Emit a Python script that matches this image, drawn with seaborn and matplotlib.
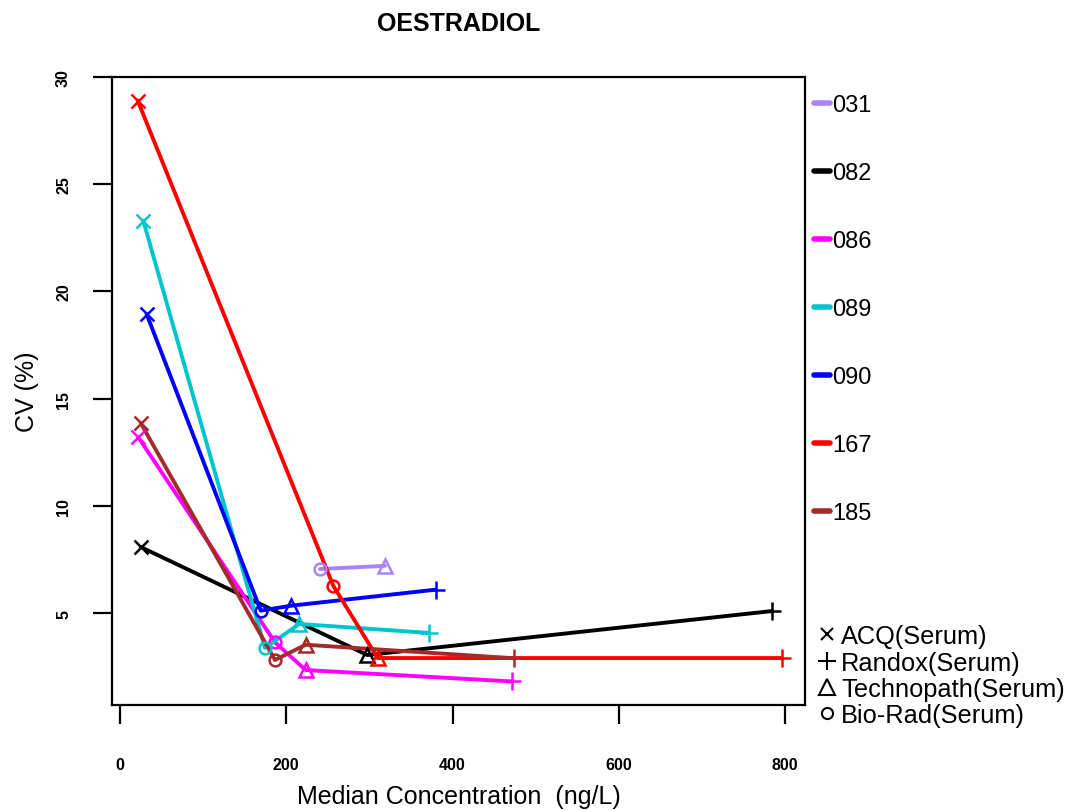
import matplotlib
matplotlib.use("Agg")
import matplotlib.pyplot as plt
import seaborn as sns
import pandas as pd
from matplotlib.lines import Line2D

# ---- data ----
labs = ["031", "082", "086", "089", "090", "167", "185"]
lab_colors = ["#AB82FF", "#000000", "#FF00FF", "#00C5CD", "#0000FF", "#FF0000", "#A52A2A"]
methods = ["ACQ(Serum)", "Randox(Serum)", "Technopath(Serum)", "Bio-Rad(Serum)"]
method_markers = ["x", "+", "^", "o"]

row_lab = ["031", "031",
           "082", "082", "082",
           "086", "086", "086", "086",
           "089", "089", "089", "089",
           "090", "090", "090", "090",
           "167", "167", "167", "167",
           "185", "185", "185", "185"]
row_method = ["Bio-Rad(Serum)", "Technopath(Serum)",
              "ACQ(Serum)", "Technopath(Serum)", "Randox(Serum)",
              "ACQ(Serum)", "Bio-Rad(Serum)", "Technopath(Serum)", "Randox(Serum)",
              "ACQ(Serum)", "Bio-Rad(Serum)", "Technopath(Serum)", "Randox(Serum)",
              "ACQ(Serum)", "Bio-Rad(Serum)", "Technopath(Serum)", "Randox(Serum)",
              "ACQ(Serum)", "Bio-Rad(Serum)", "Technopath(Serum)", "Randox(Serum)",
              "ACQ(Serum)", "Bio-Rad(Serum)", "Technopath(Serum)", "Randox(Serum)"]
median_conc = [240.6, 318.8,
               24.9, 297.5, 784.0,
               22.0, 186.5, 223.4, 471.0,
               28.0, 174.4, 215.7, 372.0,
               32.0, 169.3, 205.7, 379.8,
               21.3, 256.6, 310.0, 796.0,
               24.9, 186.5, 223.4, 474.0]
cv_pct = [7.05, 7.20,
          8.08, 3.04, 5.09,
          13.20, 3.63, 2.34, 1.81,
          23.30, 3.37, 4.49, 4.07,
          18.95, 5.11, 5.34, 6.09,
          28.90, 6.27, 2.90, 2.90,
          13.86, 2.81, 3.52, 2.89]

x_ticks = [0, 200, 400, 600, 800]
y_ticks = [5, 10, 15, 20, 25, 30]

# ---- figure ----
sns.set_theme(style="white")
plt.rcParams["font.family"] = ["Liberation Sans", "DejaVu Sans"]
plt.rcParams["text.color"] = "black"
plt.rcParams["axes.labelcolor"] = "black"
plt.rcParams["xtick.color"] = "black"
plt.rcParams["ytick.color"] = "black"

W, H = 1069, 812
fig = plt.figure(figsize=(W / 100, H / 100), dpi=100)
ax = fig.add_axes([112 / W, 1 - 706 / H, (805 - 112) / W, (706 - 78) / H])

df = pd.DataFrame({"lab": row_lab, "method": row_method,
                   "median": median_conc, "cv": cv_pct})
palette = dict(zip(labs, lab_colors))

sns.lineplot(data=df, x="median", y="cv", hue="lab", hue_order=labs,
             palette=palette, estimator=None, sort=True, lw=2.8,
             legend=False, ax=ax)

msizes = {"x": 10, "+": 13, "^": 10.5, "o": 8.5}
for lab in labs:
    for meth, mk in zip(methods, method_markers):
        sub = df[(df.lab == lab) & (df.method == meth)]
        if len(sub):
            ax.plot(sub["median"], sub["cv"], ls="none", marker=mk,
                    ms=msizes[mk], mew=1.8, mfc="none", mec=palette[lab])

ax.set_xlim(-9.6, 824)
ax.set_ylim(0.71, 30.0)
ax.set_xticks(x_ticks)
ax.set_yticks(y_ticks)
ax.set_xticklabels([str(v) for v in x_ticks])
ax.set_yticklabels([str(v) for v in y_ticks])
for s in ax.spines.values():
    s.set_color("black")
    s.set_linewidth(1.6)
ax.tick_params(axis="both", direction="out", length=13.5, width=1.6,
               colors="black", labelsize=11.5, bottom=True, left=True)
ax.tick_params(axis="x", pad=24)
ax.tick_params(axis="y", pad=16)
for lbl in ax.get_xticklabels():
    lbl.set_fontweight("bold")
for lbl in ax.get_yticklabels():
    lbl.set_fontweight("bold")
    lbl.set_rotation(90)
    lbl.set_va("center")

ax.set_xlabel("Median Concentration  (ng/L)", fontsize=18, va="center")
ax.xaxis.set_label_coords(0.5, (706 - 797) / (706 - 78))
ax.set_ylabel("CV (%)", fontsize=18, va="center")
ax.yaxis.set_label_coords((27 - 112) / (805 - 112), 0.5)

fig.text(459 / W, 1 - 24 / H, "OESTRADIOL", ha="center", va="center",
         fontsize=18, fontweight="bold", color="black")

# lab legend (right side)
for i, (lab, col) in enumerate(zip(labs, lab_colors)):
    y = 1 - (104 + i * 68) / H
    fig.add_artist(Line2D([814 / W, 830 / W], [y, y], transform=fig.transFigure,
                          color=col, lw=4, solid_capstyle="round"))
    fig.text(832 / W, y, lab, fontsize=17, va="center_baseline", ha="left")

# method legend
leg_ms = {"x": 9, "+": 13, "^": 12, "o": 8}
for meth, mk, yp in zip(methods, method_markers, [635, 661.5, 688, 713.5]):
    y = 1 - yp / H
    fig.add_artist(Line2D([827 / W], [y], transform=fig.transFigure, ls="none",
                          marker=mk, ms=leg_ms[mk], mew=1.5, mfc="none", mec="black"))
    fig.text(841 / W, y, meth, fontsize=18.3, va="center_baseline", ha="left")

fig.savefig("out.png", dpi=100, facecolor="white")
